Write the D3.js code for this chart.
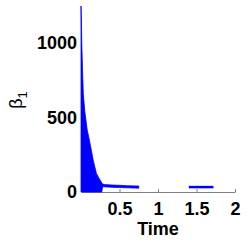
<!DOCTYPE html>
<html>
<head>
<meta charset="utf-8">
<script src="https://cdn.jsdelivr.net/npm/d3@7"></script>
<style>
  body { margin: 0; background: white; }
  svg { display: block; }
</style>
</head>
<body>
<div id="container"></div>
<script>
// dense burst: upper / lower envelope of the oscillating signal
const burstTime  = [0, 0.004, 0.01, 0.02, 0.03, 0.05, 0.08, 0.12, 0.16, 0.2, 0.23, 0.26, 0.27, 0.28, 0.3, 0.4, 0.5, 0.6, 0.75]
const burstUpper = [1250, 1180, 1000, 820, 660, 540, 420, 320, 210, 125, 95, 70, 60, 55, 50, 47, 45, 42, 40]
const burstLower = [0, 0, 0, 0, 0, 0, 0, 0, 0, 0, 0, 0, 0, 35, 35, 32, 30, 28, 26]

// later flat segment
const lateTime  = [1.4, 1.72]
const lateValue = [33, 33]

const xTicks = [0.5, 1, 1.5, 2]
const yTicks = [0, 500, 1000]

const config = {
    width: 249,
    height: 249,
    left: 81,
    right: 235,
    top: 6,
    bottom: 192,
}

const svg = d3.select('#container')
    .append('svg')
    .attr('width', config.width)
    .attr('height', config.height)

const xScale = d3.scaleLinear()
    .domain([0, 2])
    .range([config.left, config.right])

const yScale = d3.scaleLinear()
    .domain([0, 1250])
    .range([config.bottom, config.top])

// x axis
const xAxis = svg.append('g')
    .attr('class', 'x-axis')
    .attr('transform', `translate(0,${config.bottom})`)
    .call(d3.axisBottom(xScale)
        .tickValues(xTicks)
        .tickFormat(d3.format('~g'))
        .tickSizeInner(-3)
        .tickSizeOuter(0)
        .tickPadding(10))

xAxis.select('.domain').attr('stroke', '#808080')
xAxis.selectAll('.tick line').attr('stroke', '#808080')
xAxis.selectAll('.tick text')
    .style('font-family', 'Liberation Sans, Arial, sans-serif')
    .style('font-size', '18px')
    .style('font-weight', 'bold')
    .attr('fill', 'black')

// y axis (line hidden under data)
const yAxis = svg.append('g')
    .attr('class', 'y-axis')
    .attr('transform', `translate(${config.left},0)`)
    .call(d3.axisLeft(yScale)
        .tickValues(yTicks)
        .tickFormat(d3.format('d'))
        .tickSize(0)
        .tickPadding(4))

yAxis.select('.domain').remove()
yAxis.selectAll('.tick text')
    .style('font-family', 'Liberation Sans, Arial, sans-serif')
    .style('font-size', '18px')
    .style('font-weight', 'bold')
    .attr('fill', 'black')

// burst area
const burst = burstTime.map((t, i) => ({t: t, hi: burstUpper[i], lo: burstLower[i]}))

svg.append('path')
    .datum(burst)
    .attr('d', d3.area()
        .x(d => xScale(d.t))
        .y0(d => yScale(d.lo))
        .y1(d => yScale(d.hi)))
    .attr('fill', '#0000ff')
    .attr('stroke', '#0000ff')
    .attr('stroke-width', 0.8)

// late segment
const late = lateTime.map((t, i) => ({t: t, v: lateValue[i]}))

svg.append('path')
    .datum(late)
    .attr('d', d3.line()
        .x(d => xScale(d.t))
        .y(d => yScale(d.v)))
    .attr('fill', 'none')
    .attr('stroke', '#0000ff')
    .attr('stroke-width', 2.5)

// axis titles
svg.append('text')
    .attr('text-anchor', 'middle')
    .attr('x', 158)
    .attr('y', 235)
    .text('Time')
    .style('font-family', 'Liberation Sans, Arial, sans-serif')
    .style('font-size', '18px')
    .style('font-weight', 'bold')

const yLabel = svg.append('text')
    .attr('text-anchor', 'middle')
    .attr('transform', 'translate(22,100) rotate(-90)')
    .style('font-family', 'Liberation Sans, Arial, sans-serif')
    .style('font-size', '18px')

yLabel.append('tspan').text('β')
yLabel.append('tspan')
    .attr('dy', 5)
    .style('font-size', '13px')
    .text('1')
</script>
</body>
</html>
